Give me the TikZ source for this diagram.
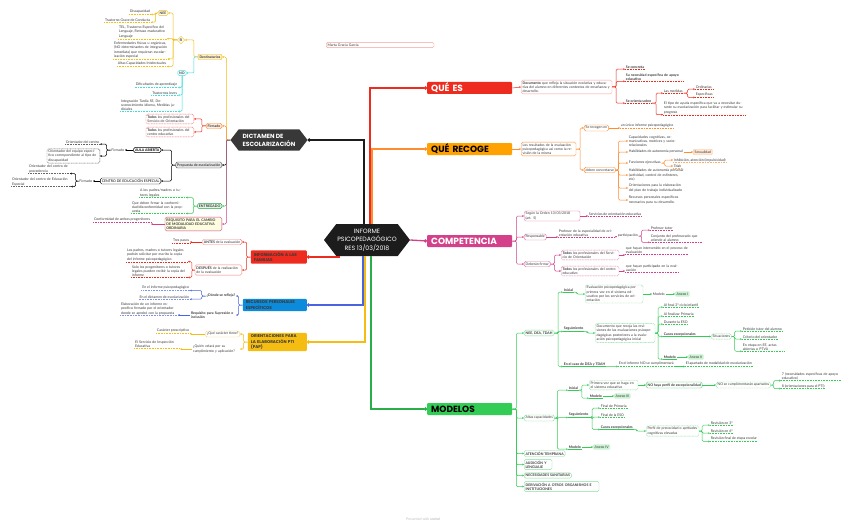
\documentclass[tikz,border=0pt]{standalone}
\usepackage{fontspec}
\setmainfont{Lato}
\newfontfamily\headfont{Poppins}
\usetikzlibrary{arrows.meta,shapes.geometric,shapes.symbols}
\definecolor{ink}{HTML}{3A3A3A}
\definecolor{cDark}{HTML}{1C1C1C}
\definecolor{cDict}{HTML}{383838}
\definecolor{cRed}{HTML}{EE2B1F}
\definecolor{cOrg}{HTML}{FF8C2E}
\definecolor{cAmb}{HTML}{FFA100}
\definecolor{cPink}{HTML}{D2418A}
\definecolor{cGreen}{HTML}{33CC55}
\definecolor{cBlue}{HTML}{0B8BD9}
\definecolor{cBlueL}{HTML}{4A63E0}
\definecolor{cYel}{HTML}{F5BC12}
\definecolor{cCyan}{HTML}{3FDCDC}
\newcommand{\tinytxt}{\fontsize{3.5}{4.2}\selectfont}
\tikzset{
  txt/.style={font=\tinytxt, text=ink, align=left, inner sep=0.7pt, anchor=west},
  lft/.style={anchor=east},
  ul/.style={txt, append after command={(\tikzlastnode.south west) edge[draw=#1, line width=0.4pt, dash pattern=on 1pt off 0.6pt] (\tikzlastnode.south east)}},
  uls/.style={txt, font=\tinytxt\bfseries, append after command={(\tikzlastnode.south west) edge[draw=#1, line width=0.5pt] (\tikzlastnode.south east)}},
  bx/.style={txt, draw=#1, fill=white, rounded corners=1.5pt, inner sep=1.4pt, line width=0.4pt},
  dbx/.style={bx=#1, dash pattern=on 1pt off 0.6pt},
  tag/.style={txt, fill=#1, rounded corners=1pt, inner sep=1.4pt},
  topic/.style={rectangle, rounded corners=1pt, fill=#1, anchor=west, font=\headfont\bfseries\fontsize{9}{11}\selectfont,
                minimum height=12pt, inner xsep=4pt, inner ysep=1pt, align=left, text width=77pt},
  subtopic/.style={rectangle, rounded corners=1pt, fill=#1, anchor=east, font=\headfont\bfseries\fontsize{4.1}{5.3}\selectfont,
                   text=ink, align=left, inner xsep=3pt, inner ysep=2pt},
  hexa/.style={signal, signal to=east and west, signal pointer angle=105, fill=#1, text=white, align=left, inner sep=1pt},
  trunk/.style={line width=1.3pt, -{Circle[length=3.2pt]}},
  br/.style={line width=0.5pt, rounded corners=1.2pt, -{Stealth[length=1.8pt,width=1.8pt]}}
}

\begin{document}
\begin{tikzpicture}[x=1pt,y=-1pt]
  \fill[white] (0,0) rectangle (848,524);
  \useasboundingbox (0,0) rectangle (848,524);

  % centre and main topics
  \node[hexa=cDark, minimum width=86pt, minimum height=32pt, align=center, font=\headfont\fontsize{6.2}{8.5}\selectfont] (inf) at (367,240)
       {INFORME\\PSICOPEDAGÓGICO\\RES 13/03/2018};
  \node[bx=cRed!45, text width=105pt, text=ink] (autor) at (326,45) {Marta Gracia Garcia};
  \node[topic=cRed, text=white] (qes) at (427,88) {QUÉ ES};
  \node[topic=cAmb, text=black] (qrec) at (427,149) {QUÉ RECOGE};
  \node[topic=cPink, text=white] (comp) at (427,241) {COMPETENCIA};
  \node[topic=cGreen, text=black] (mod) at (427,409) {MODELOS};
  \node[hexa=cDict, minimum width=77pt, minimum height=21pt, font=\headfont\bfseries\fontsize{6}{8}\selectfont] (dict) at (269,140)
       {DICTAMEN DE\\ESCOLARIZACIÓN};
  \node[subtopic=cRed, text width=50pt] (info) at (307,257) {INFORMACIÓN A LAS\\FAMILIAS};
  \node[subtopic=cBlue, text width=58pt] (rec) at (307,305) {RECURSOS PERSONALES\\ESPECÍFICOS};
  \node[subtopic=cYel, text width=53pt] (ori) at (307,342) {ORIENTACIONES PARA\\LA ELABORACIÓN PTI\\(PAP)};

  \draw[trunk, cRed] (inf.north) ++(3,0) |- (qes.west);
  \draw[trunk, cOrg] (inf.north) ++(5,0) |- (qrec.west);
  \draw[trunk, cDark] (inf.north) ++(-3,0) |- (dict.east);
  \draw[trunk, cPink] (inf.east) -- (comp.west);
  \draw[trunk, cGreen!85!black] (inf.south) ++(4,0) |- (mod.west);
  \draw[trunk, cRed] (inf.south) ++(-28,0) |- (info.east);
  \draw[trunk, cBlueL] (inf.south) ++(-4,0) |- (rec.east);
  \draw[trunk, cYel] (inf.south) ++(-2,0) |- (ori.east);

  % QUE ES
  \node[bx=cRed!45, text width=88pt] (doc) at (521,87) {\textbf{Documento} que refleja la situación evolutiva y educativa del alumno en diferentes contextos de enseñanza y desarrollo.};
  \draw[br, cRed] (qes.east) -- (doc.west);
  \node[ul=cRed, font=\tinytxt\bfseries] (conc) at (625,67) {Se concreta};
  \node[ul=cRed, font=\tinytxt\bfseries, text width=56pt] (neces) at (625,77) {Su necesidad específica de apoyo educativo};
  \node[ul=cRed, font=\tinytxt\bfseries] (orie) at (625,101) {Se orienta sobre};
  \foreach \k in {conc,neces,orie} \draw[br, cRed] (doc.east) -- ++(4,0) |- (\k.south west);
  \node[ul=cRed] (medi) at (663,91) {Las medidas};
  \node[ul=cRed, text width=80pt] (tipo) at (663,108) {El tipo de ayuda específica que va a necesitar durante su escolarización para facilitar y estimular su progreso};
  \foreach \k in {medi,tipo} \draw[br, cRed] (orie.south east) -- ++(4,0) |- (\k.south west);
  \node[ul=cRed] (ordi) at (695,87) {Ordinarias};
  \node[ul=cRed] (espe) at (695,95) {Específicas};
  \foreach \k in {ordi,espe} \draw[br, cRed] (medi.south east) -- ++(4,0) |- (\k.south west);

  % QUE RECOGE
  \node[bx=cOrg, text width=52pt] (resu) at (521,149) {Los resultados de la evaluación psicopedagógica así como la revisión de la misma};
  \draw[br, cOrg] (qrec.east) -- (resu.west);
  \node[bx=cOrg] (recog) at (584,128) {Se recogen en};
  \node[bx=cOrg] (deben) at (584,170) {deben concretarse};
  \foreach \k in {recog,deben} \draw[br, cOrg] (resu.east) -- ++(4,0) |- (\k.west);
  \node[ul=cOrg] (unico) at (620,126) {un único informe psicopedagógico};
  \draw[br, cOrg] (recog.east) -- (recog.east -| unico.west);
  \node[txt, text width=50pt] (capa) at (628,141) {Capacidades cognitivas, comunicativas, motrices y socio-relacionales};
  \node[txt] (habi) at (628,152) {Habilidades de autonomía personal};
  \node[txt] (func) at (628,163) {Funciones ejecutivas};
  \node[txt, text width=55pt] (habi2) at (628,175) {Habilidades de autonomía personal (actividad, control de esfínteres, etc)};
  \node[txt, text width=55pt] (plan) at (628,188) {Orientaciones para la elaboración del plan de trabajo individualizado};
  \node[txt, text width=55pt] (recu) at (628,200) {Recursos personales específicos necesarios para su desarrollo.};
  \foreach \k in {capa,habi,func,habi2,plan,recu} \draw[br, cOrg] (deben.east) -- ++(3,0) |- (\k.west);
  \node[tag=cOrg!20, draw=cOrg!50] (sexu) at (693,152) {Sexualidad};
  \draw[br, cOrg] (habi.east) -- (sexu.west);
  \node[ul=cOrg!70] (inhi) at (673,160) {Inhibición, atención (impulsividad)};
  \node[ul=cOrg!70] (tdah) at (673,166) {Tdah};
  \foreach \k in {inhi,tdah} \draw[br, cOrg] (func.east) -- ++(3,0) |- (\k.west);

  % COMPETENCIA
  \node[bx=cPink!70, text width=53pt] (orden) at (524,216) {Según la Orden 13/03/2018\\(art. 5)};
  \node[bx=cPink!70] (resp) at (524,237) {Responsable};
  \node[bx=cPink!70] (deb) at (524,264) {Deberán firmar};
  \foreach \k in {orden,resp,deb} \draw[br, cPink] (comp.east) -- ++(4,0) |- (\k.west);
  \node[ul=cPink] (serv) at (588,214) {Servicios de orientación educativa};
  \draw[br, cPink] (orden.east) -- (orden.east -| serv.west);
  \node[ul=cPink, text width=55pt] (prof) at (558,233) {Profesor de la especialidad de orientación educativa};
  \draw[br, cPink] (resp.east) -- (resp.east -| prof.west);
  \node[txt] (parti) at (617,236) {participación};
  \draw[br, cPink] (prof.south east) -- (parti.west);
  \node[ul=cPink] (tutor) at (650,228) {Profesor tutor};
  \node[ul=cPink, text width=50pt] (conj) at (650,238) {Conjunto del profesorado que atiende al alumno};
  \foreach \k in {tutor,conj} \draw[br, cPink] (parti.east) -- ++(3,0) |- (\k.south west);
  \node[dbx=cPink!70, text width=55pt] (todos1) at (561,255) {\textbf{Todos} los profesionales del Servicio de Orientación};
  \node[dbx=cPink!70, text width=55pt] (todos2) at (561,271) {\textbf{Todos} los profesionales del centro educativo};
  \foreach \k in {todos1,todos2} \draw[br, cPink] (deb.east) -- ++(4,0) |- (\k.west);
  \node[ul=cPink, text width=62pt] (inter) at (625,250) {que hayan intervenido en el proceso de evaluación};
  \node[ul=cPink, text width=52pt] (parte) at (625,268) {que hayan participado en la evaluación};
  \draw[br, cPink] (todos1.east) -- (todos1.east -| inter.west);
  \draw[br, cPink] (todos2.east) -- (todos2.east -| parte.west);

  % MODELOS
  \node[bx=cGreen!60, font=\tinytxt\bfseries] (nee) at (524,333) {NEE, DEA, TDAH};
  \node[bx=cGreen!60] (altas) at (524,418) {Altas capacidades};
  \node[bx=cGreen!60, font=\tinytxt\bfseries] (aten) at (524,453.5) {ATENCIÓN TEMPRANA};
  \node[bx=cGreen!60, font=\tinytxt\bfseries, text width=25pt] (audi) at (524,464.5) {AUDICIÓN Y LENGUAJE};
  \node[bx=cGreen!60, font=\tinytxt\bfseries] (sani) at (524,475.5) {NECESIDADES SANITARIAS};
  \node[bx=cGreen!60, font=\tinytxt\bfseries, text width=72pt] (deri) at (524,486.5) {DERIVACIÓN A OTROS ORGANISMOS E INSTITUCIONES};
  \foreach \k in {nee,altas,aten,audi,sani,deri} \draw[br, cGreen] (mod.east) -- ++(4,0) |- (\k.west);

  \node[uls=cGreen] (ini1) at (563,290) {Inicial};
  \node[uls=cGreen] (seg1) at (563,329) {Seguimiento};
  \node[uls=cGreen] (caso) at (563,364) {En el caso de DEA y TDAH};
  \foreach \k in {ini1,seg1,caso} \draw[br, cGreen] (nee.east) -- ++(4,0) |- (\k.south west);
  \node[dbx=cGreen!60, text width=55pt] (evalp) at (585,294) {Evaluación psicopedagógica por primera vez en el sistema educativo por los servicios de orientación};
  \draw[br, cGreen] (ini1.south east) -- ++(3,0) |- (evalp.west);
  \node[txt] (mod1) at (652,294) {Modelo};
  \draw[br, cGreen] (evalp.east) -- (mod1.west);
  \node[tag=cGreen!25] (anx1) at (675,294) {Anexo I};
  \draw[br, cGreen] (mod1.east) -- (anx1.west);
  \node[dbx=cGreen!60, text width=57pt] (docr) at (595,333) {Documento que recoja las revisiones de las evaluaciones psicopedagógicas posteriores a la evaluación psicopedagógica inicial};
  \draw[br, cGreen] (seg1.south east) -- ++(3,0) |- (docr.west);
  \node[ul=cGreen] (s1) at (663,305) {Al final 2º ciclo infantil};
  \node[ul=cGreen] (s2) at (663,314) {Al finalizar Primaria};
  \node[ul=cGreen] (s3) at (663,322) {Durante la ESO};
  \node[uls=cGreen] (s4) at (663,334) {Casos excepcionales};
  \node[uls=cGreen] (s5) at (663,357) {Modelo};
  \foreach \k in {s1,s2,s3,s4,s5} \draw[br, cGreen] (docr.east) -- ++(3,0) |- (\k.south west);
  \node[tag=cGreen!25] (anx2) at (688,357) {Anexo II};
  \draw[br, cGreen] (s5.east) -- (anx2.west);
  \node[dbx=cGreen!60] (situ) at (711,336.5) {Situaciones};
  \draw[br, cGreen] (s4.south east) -- (s4.south east -| situ.west);
  \node[ul=cGreen] (p1) at (742,329) {Petición tutor del alumno};
  \node[ul=cGreen] (p2) at (742,337) {Criterio del orientador};
  \node[ul=cGreen, text width=40pt] (p3) at (742,347) {En etapa en EE, actas abiertas o PTVA};
  \foreach \k in {p1,p2,p3} \draw[br, cGreen] (situ.east) -- ++(3,0) |- (\k.south west);
  \node[ul=cGreen] (nocum) at (618,364) {En el informe NO se cumplimentará};
  \node[ul=cGreen] (apart) at (685,364) {El apartado de modalidad de escolarización};
  \draw[br, cGreen] (caso.south east) -- (nocum.south west);
  \draw[br, cGreen] (nocum.south east) -- (apart.south west);

  \node[uls=cGreen] (ini2) at (568,388) {Inicial};
  \node[uls=cGreen] (seg2) at (568,415) {Seguimiento};
  \node[uls=cGreen] (mod4) at (568,447) {Modelo};
  \foreach \k in {ini2,seg2,mod4} \draw[br, cGreen] (altas.east) -- ++(3,0) |- (\k.south west);
  \node[dbx=cGreen!60, text width=46pt] (prim) at (589,385) {Primera vez que se haga en el sistema educativo};
  \node[uls=cGreen] (mod3) at (589,396) {Modelo};
  \draw[br, cGreen] (ini2.south east) -- ++(3,0) |- (prim.west);
  \draw[br, cGreen] (ini2.south east) -- ++(3,0) |- (mod3.south west);
  \node[tag=cGreen!25] (anx3) at (614,396) {Anexo III};
  \draw[br, cGreen] (mod3.east) -- (anx3.west);
  \node[bx=cGreen, font=\tinytxt\bfseries] (noperf) at (646,385) {NO haya perfil de excepcionalidad};
  \draw[br, cGreen] (prim.east) -- (noperf.west);
  \node[dbx=cGreen!60] (nocum2) at (716,385) {NO se cumplimentarán apartados};
  \draw[br, cGreen] (noperf.east) -- (nocum2.west);
  \node[ul=cGreen, text width=58pt] (a7) at (781,376) {7 (necesidades específicas de apoyo educativo)};
  \node[ul=cGreen] (a8) at (781,386) {8 (orientaciones para el PTI)};
  \foreach \k in {a7,a8} \draw[br, cGreen] (nocum2.east) -- ++(3,0) |- (\k.south west);
  \node[ul=cGreen] (fp) at (600,406) {Final de Primaria};
  \node[ul=cGreen] (fe) at (600,415) {Final de la ESO};
  \node[uls=cGreen] (ce) at (600,427) {Casos excepcionales};
  \foreach \k in {fp,fe,ce} \draw[br, cGreen] (seg2.south east) -- ++(3,0) |- (\k.south west);
  \node[dbx=cGreen!60, text width=50pt] (perf) at (646,431) {Perfil de precocidad o aptitudes cognitivas elevadas};
  \draw[br, cGreen] (ce.south east) -- ++(3,0) |- (perf.west);
  \node[ul=cGreen] (r3) at (710,423) {Revisión en 3º};
  \node[ul=cGreen] (r6) at (710,431) {Revisión en 6º};
  \node[ul=cGreen] (rf) at (710,439) {Revisión final de etapa escolar};
  \foreach \k in {r3,r6,rf} \draw[br, cGreen] (perf.east) -- ++(3,0) |- (\k.south west);
  \node[tag=cGreen!25] (anx4) at (593,447) {Anexo IV};
  \draw[br, cGreen] (mod4.east) -- (anx4.west);

  % DICTAMEN
  \node[tag=cYel!20, draw=cYel, lft, font=\tinytxt\bfseries] (dest) at (222,57) {Destinatarios};
  \node[bx=cOrg, fill=cOrg!15, lft, font=\tinytxt\bfseries] (firm) at (222,126) {Firmado};
  \node[bx=black!70, fill=black!10, lft, font=\tinytxt\bfseries] (prop) at (222,165) {Propuesta de escolarización};
  \node[bx=cGreen!80!black, fill=cGreen!15, lft, font=\tinytxt\bfseries] (entr) at (222,206) {ENTREGADO};
  \node[bx=cPink, fill=yellow!12, lft, font=\tinytxt\bfseries, text width=54pt] (requ) at (222,224) {REQUISITO PARA EL CAMBIO DE MODALIDAD EDUCATIVA ORDINARIA};
  \draw[br, cYel] (dict.west) -- ++(-4,0) |- (dest.east);
  \draw[br, cOrg] (dict.west) -- ++(-4,0) |- (firm.east);
  \draw[br, black] (dict.west) -- ++(-4,0) |- (prop.east);
  \draw[br, cGreen] (dict.west) -- ++(-4,0) |- (entr.east);
  \draw[br, cPink] (dict.west) -- ++(-4,0) |- (requ.east);

  \node[diamond, draw=cYel, fill=white, inner sep=0.5pt, font=\tinytxt\bfseries, text=ink] (si) at (181,40) {SI};
  \node[bx=cCyan, font=\tinytxt\bfseries, anchor=center] (no) at (182,73) {NO};
  \draw[br, cYel] (dest.west) -- ++(-4,0) |- (si.east);
  \draw[br, cCyan] (dest.west) -- ++(-4,0) |- (no.east);
  \node[bx=cYel, font=\tinytxt\bfseries, anchor=center] (nee2) at (163,13) {NEE};
  \node[ul=cYel, lft, text width=47pt] (tel) at (167,32) {TEL, Trastorno Específico del Lenguaje, Retraso madurativo Lenguaje};
  \node[ul=cYel, lft, text width=53pt] (enfe) at (168,50) {Enfermedades físicas u orgánicas, (NO determinantes de integración inmediata) que requieran escolarización especial};
  \node[ul=cYel, lft] (altc) at (167,64) {Altas Capacidades Intelectuales};
  \draw[br, cYel] (si.west) -- ++(-4,0) |- (nee2.east);
  \foreach \k in {tel,enfe,altc} \draw[br, cYel] (si.west) -- ++(-4,0) |- (\k.south east);
  \node[ul=cYel, lft] (disc) at (151,12) {Discapacidad};
  \node[ul=cYel, lft] (tgc) at (151,20) {Trastorno Grave de Conducta};
  \foreach \k in {disc,tgc} \draw[br, cYel] (nee2.west) -- ++(-2.5,0) |- (\k.south east);
  \node[ul=cCyan, lft] (difi) at (178,85) {Dificultades de aprendizaje};
  \node[ul=cCyan, lft] (trle) at (178,93) {Trastornos leves};
  \node[ul=cCyan, lft, text width=56pt] (integ) at (178,105) {Integración Tardía SE, Desconocimiento idioma, Medidas judiciales};
  \foreach \k in {difi,trle,integ} \draw[br, cCyan] (no.south) |- (\k.south east);

  \node[dbx=cRed!70, lft, text width=45pt] (tsv) at (194,119) {\textbf{Todos} los profesionales del Servicio de Orientación};
  \node[dbx=cRed!70, lft, text width=45pt] (tce) at (194,132) {\textbf{Todos} los profesionales del centro educativo};
  \foreach \k in {tsv,tce} \draw[br, cRed] (firm.west) -- ++(-4,0) |- (\k.east);

  \node[bx=black, lft, font=\tinytxt\bfseries, text=black] (aula) at (161,150) {AULA ABIERTA};
  \node[bx=black, lft, text=black] (cee) at (161,181) {CENTRO DE EDUCACIÓN ESPECIAL};
  \foreach \k in {aula,cee} \draw[br, black] (prop.west) -- ++(-4,0) |- (\k.east);
  \node[txt, lft] (fir1) at (125,150) {Firmado};
  \draw[br, black] (aula.west) -- (fir1.east);
  \node[ul=black!60, lft] (orc) at (100,142) {Orientador del centro};
  \node[dbx=black!60, lft, text width=50pt] (oreq) at (100,156) {Orientador del equipo específico correspondiente al tipo de discapacidad};
  \draw[br, black] (fir1.west) -- ++(-4,0) |- (orc.south east);
  \draw[br, black] (fir1.west) -- ++(-4,0) |- (oreq.east);
  \node[txt, lft] (fir2) at (93,181) {Firmado};
  \draw[br, black] (cee.west) -- (fir2.east);
  \node[ul=black!60, lft, text width=40pt] (orp) at (70,169) {Orientador del centro de procedencia};
  \node[ul=black!60, lft, text width=58pt] (oree) at (71,182) {Orientador del centro de Educación Especial};
  \foreach \k in {orp,oree} \draw[br, black] (fir2.west) -- ++(-3,0) |- (\k.south east);

  \node[ul=cGreen, lft, text width=45pt] (apad) at (186,193) {A los padres/madres o tutores legales};
  \node[ul=cGreen, lft, text width=53pt] (qdeb) at (186,207) {Que deben firmar la conformidad/disconformidad con la propuesta};
  \foreach \k in {apad,qdeb} \draw[br, cGreen] (entr.west) -- ++(-4,0) |- (\k.south east);
  \node[ul=cPink, lft] (conf) at (151,220) {Conformidad de ambos progenitores};
  \draw[br, cPink] (requ.west) -- (requ.west -| conf.east);

  % INFORMACION A LAS FAMILIAS
  \node[bx=cRed!60, lft] (antes) at (242,242) {\textbf{ANTES} de la evaluación};
  \node[bx=cRed!60, lft, text width=44pt] (despu) at (242,270) {\textbf{DESPUÉS} de la realización de la evaluación};
  \foreach \k in {antes,despu} \draw[br, cRed] (info.west) -- ++(-4,0) |- (\k.east);
  \node[ul=cRed, lft] (tras) at (190,241) {Tres pasos};
  \draw[br, cRed] (antes.west) -- (antes.west -| tras.east);
  \node[ul=cRed, lft, text width=60pt] (lpad) at (188,255) {Los padres, madres o tutores legales podrán solicitar por escrito la copia del informe psicopedagógico};
  \node[ul=cRed, lft, text width=55pt] (solo) at (188,271) {Solo los progenitores o tutores legales pueden recibir la copia del informe};
  \foreach \k in {lpad,solo} \draw[br, cRed] (despu.west) -- ++(-3,0) |- (\k.south east);

  % RECURSOS PERSONALES
  \node[txt, lft, font=\tinytxt\bfseries] (dond) at (236,296) {¿Dónde se refleja?};
  \node[txt, lft, font=\tinytxt\bfseries, text width=44pt] (requi) at (236,315) {Requisito para Supresión o inclusión};
  \foreach \k in {dond,requi} \draw[br, cBlueL] (rec.west) -- ++(-4,0) |- (\k.east);
  \node[ul=cBlueL!70, lft] (einf) at (190,288) {En el informe psicopedagógico};
  \node[ul=cBlueL!70, lft] (edic) at (190,297) {En el dictamen de escolarización};
  \foreach \k in {einf,edic} \draw[br, cBlueL] (dond.west) -- ++(-4,0) |- (\k.south east);
  \node[ul=cBlueL!70, lft, text width=56pt] (elab) at (178,309) {Elaboración de un informe específico firmado por el orientador donde se aprobó con la propuesta};
  \draw[br, cBlueL] (requi.west) -- (requi.west -| elab.east);

  % ORIENTACIONES
  \node[bx=cYel!60, lft] (qcar) at (240,334) {¿Qué carácter tiene?};
  \node[txt, lft, text width=46pt] (quien) at (240,349) {¿Quién velará por su cumplimiento y aplicación?};
  \foreach \k in {qcar,quien} \draw[br, cYel] (ori.west) -- ++(-4,0) |- (\k.east);
  \node[ul=cYel, lft] (pres) at (190,331) {Carácter prescriptivo};
  \draw[br, cYel] (qcar.west) -- (qcar.west -| pres.east);
  \node[ul=cYel, lft, text width=44pt] (insp) at (180,344) {El Servicio de Inspección Educativa};
  \draw[br, cYel] (quien.west) -- (quien.west -| insp.east);

  \node[font=\fontsize{3.5}{4}\selectfont, text=black!25] (xm) at (423,519) {Presented with \textbf{xmind}};
\end{tikzpicture}
\end{document}
